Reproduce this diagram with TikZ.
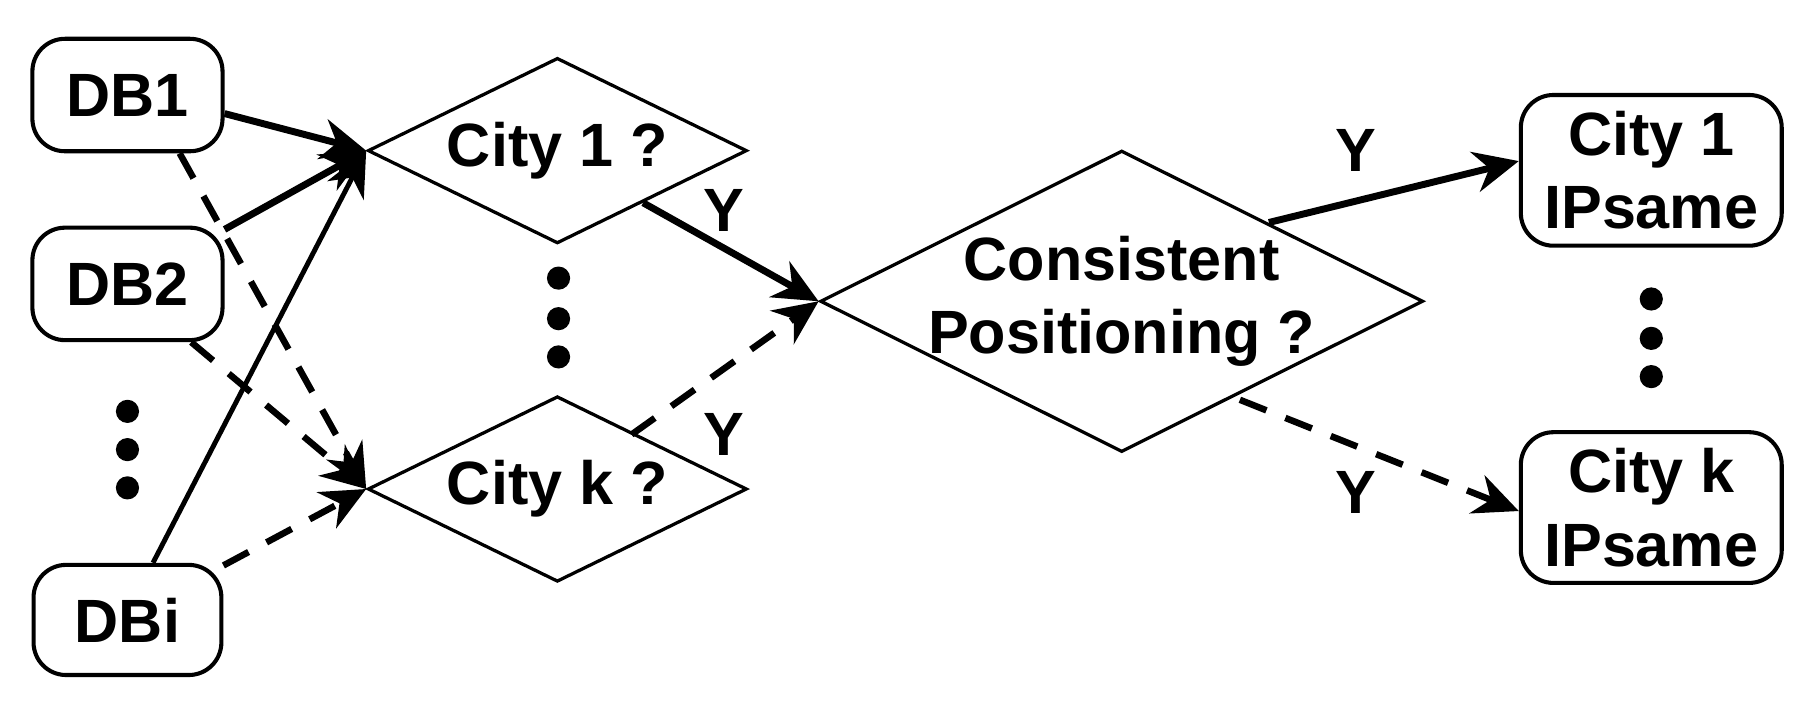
\documentclass[tikz,border=0pt]{standalone}
\usepackage{fontspec}
\setmainfont{Liberation Sans}
\usetikzlibrary{shapes.geometric,arrows.meta}
\begin{document}
\begin{tikzpicture}[x=0.01cm,y=-0.01cm,
  every node/.style={font=\fontsize{15}{18}\selectfont\bfseries},
  box/.style={draw,line width=1pt,rounded corners=8pt,align=center,inner sep=0},
  dia/.style={draw,line width=0.8pt,diamond,inner sep=0,align=center,aspect=2.04},
  arr/.style={line width=1.5pt,-{Stealth[length=11pt,width=10pt]}},
  darr/.style={arr,line width=1.6pt,dash pattern=on 7pt off 5pt},
  dot/.style={circle,fill,inner sep=0,minimum size=0.2cm}]
\useasboundingbox (0,0) rectangle (1568,612);
\node[box,minimum width=1.64cm,minimum height=0.97cm] (db1) at (110,82) {DB1};
\node[box,minimum width=1.64cm,minimum height=0.97cm] (db2) at (110,245) {DB2};
\node[box,minimum width=1.62cm,minimum height=0.95cm] (dbi) at (110,535) {DBi};
\foreach \y in {355,388,421} \node[dot] at (110,\y) {};
\node[dia,minimum width=3.27cm,minimum height=1.6cm] (c1) at (481,130) {City 1 ?};
\node[dia,minimum width=3.27cm,minimum height=1.6cm] (ck) at (481,422) {City k ?};
\foreach \y in {240,275,308} \node[dot] at (482,\y) {};
\node[dia,aspect=2,inner sep=-6pt,minimum width=5.2cm,minimum height=2.6cm] (cp) at (968,260) {Consistent\\Positioning ?};
\node[box,minimum width=2.25cm,minimum height=1.3cm] (r1) at (1425,147) {City 1\\IPsame};
\node[box,minimum width=2.25cm,minimum height=1.3cm] (rk) at (1425,438) {City k\\IPsame};
\foreach \y in {258,292,325} \node[dot] at (1425,\y) {};
\draw[arr,line width=1.7pt] ([yshift=-0.16cm]db1.east) -- (c1.west);
\draw[arr,line width=1.7pt] ([yshift=0.47cm]db2.east) -- (c1.west);
\draw[arr,line width=1.2pt] ([xshift=0.22cm]dbi.north) -- (c1.west);
\draw[darr] ([xshift=0.45cm]db1.south) -- (ck.west);
\draw[darr] ([xshift=0.55cm]db2.south) -- (ck.west);
\draw[darr] ([yshift=0.47cm]dbi.east) -- (ck.west);
\draw[arr,line width=1.7pt] (555,175) coordinate (a1) (a1) -- (cp.west);
\draw[darr] (545,375) coordinate (a2) (a2) -- (cp.west);
\draw[arr,line width=1.7pt] (1095,192) coordinate (a3) (a3) -- ([yshift=0.08cm]r1.west);
\draw[darr] (1070,345) coordinate (a4) (a4) -- ([yshift=-0.03cm]rk.west);
\node (y1) at (625,182) {Y};
\node (y2) at (625,375) {Y};
\node (y3) at (1170,130) {Y};
\node (y4) at (1170,425) {Y};
\end{tikzpicture}
\end{document}
